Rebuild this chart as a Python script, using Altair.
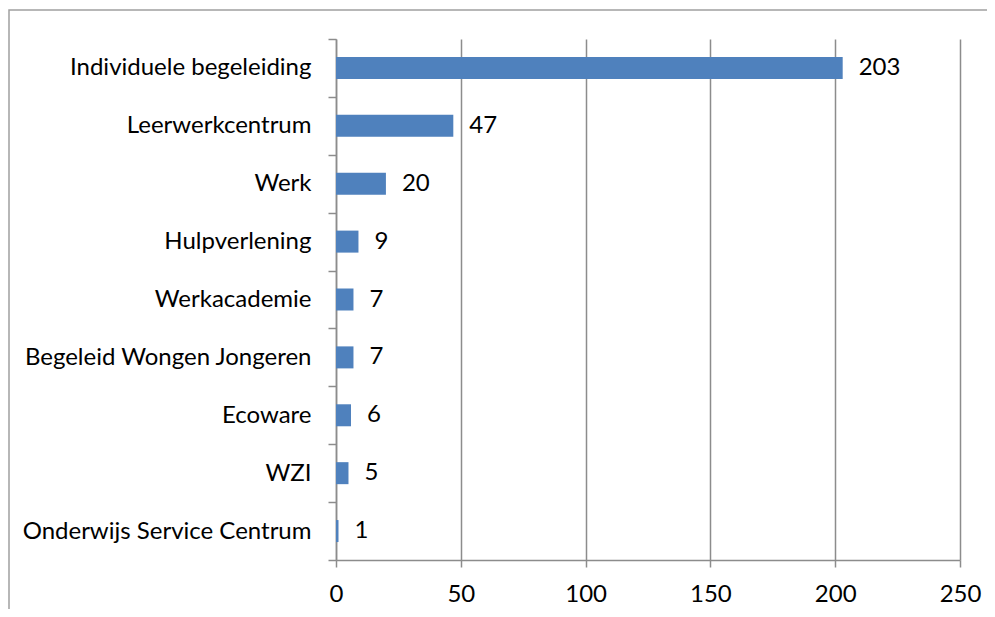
import altair as alt
import pandas as pd

categories = [
    "Individuele begeleiding",
    "Leerwerkcentrum",
    "Werk",
    "Hulpverlening",
    "Werkacademie",
    "Begeleid Wongen Jongeren",
    "Ecoware",
    "WZI",
    "Onderwijs Service Centrum",
]
values = [203, 47, 20, 9, 7, 7, 6, 5, 1]
x_ticks = [0, 50, 100, 150, 200, 250]

df = pd.DataFrame({"cat": categories, "val": values})

FONT = "Lato"
GRAY = "#8c8c8c"

y_enc = alt.Y(
    "cat:N",
    sort=None,
    scale=alt.Scale(paddingInner=0, paddingOuter=0),
    axis=alt.Axis(
        title=None,
        domainColor=GRAY,
        domainWidth=1.5,
        tickColor=GRAY,
        tickWidth=1.5,
        tickSize=8,
        tickBand="extent",
        labelFont=FONT,
        labelFontSize=24,
        labelColor="black",
        labelPadding=17,
        grid=False,
        labelLimit=400,
    ),
)

x_enc = alt.X(
    "val:Q",
    scale=alt.Scale(domain=[0, 250], nice=False, zero=True),
    axis=alt.Axis(
        title=None,
        values=x_ticks,
        domainColor=GRAY,
        domainWidth=1.5,
        tickColor=GRAY,
        tickWidth=1.5,
        tickSize=7,
        grid=True,
        gridColor=GRAY,
        gridWidth=1.5,
        labelFont=FONT,
        labelFontSize=24,
        labelColor="black",
        labelPadding=15,
        labelFlush=False,
    ),
)

bars = alt.Chart(df).mark_bar(color="#4F81BD", size=22).encode(x=x_enc, y=y_enc)

labels = alt.Chart(df).mark_text(
    align="left", baseline="middle", dx=16, font=FONT, fontSize=24, color="black"
).encode(x="val:Q", y=alt.Y("cat:N", sort=None), text="val:Q")

border = alt.Chart(pd.DataFrame({"a": [0]})).mark_rect(
    fill=None, stroke="#a0a0a0", strokeWidth=1.5, clip=False
).encode(
    x=alt.value(-327), x2=alt.value(800), y=alt.value(-29), y2=alt.value(700)
)

chart = (
    alt.layer(border, bars, labels)
    .properties(
        width=624,
        height=521,
        padding={"left": 328, "top": 31, "right": 27, "bottom": 49},
        autosize=alt.AutoSizeParams(type="none"),
        background="white",
    )
    .configure_view(stroke=None)
)

chart.save("out.html", embed_options={"renderer": "svg", "actions": False})
